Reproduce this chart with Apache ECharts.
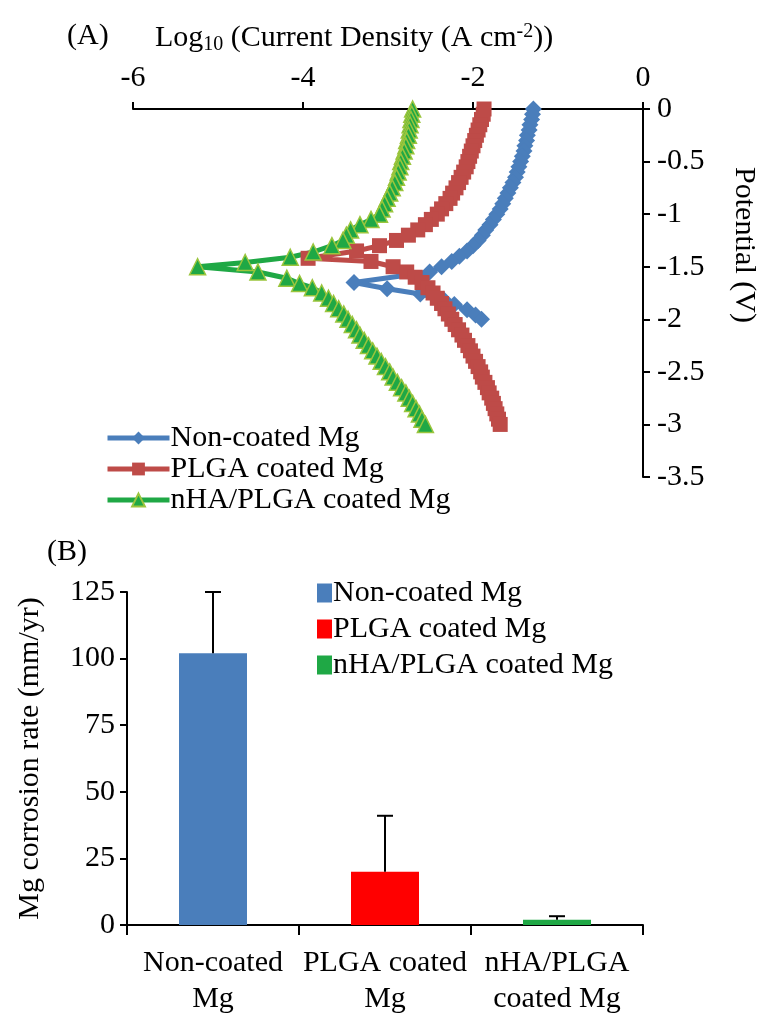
<!DOCTYPE html>
<html>
<head>
<meta charset="utf-8">
<script src="https://cdn.jsdelivr.net/npm/echarts@6/dist/echarts.min.js"></script>
<style>
  html, body { margin: 0; padding: 0; background: #fff; }
  #main { width: 762px; height: 1017px; }
</style>
</head>
<body>
<div id="main"></div>
<script>
// polarisation curves: [log10 current density, potential (V)]
var nonCoatedCurve = [
  [-1.29, 0], [-1.30, -0.05], [-1.31, -0.1], [-1.33, -0.15], [-1.34, -0.2], [-1.36, -0.25],
  [-1.37, -0.3], [-1.39, -0.35], [-1.40, -0.4], [-1.42, -0.45], [-1.44, -0.5], [-1.46, -0.55],
  [-1.48, -0.6], [-1.50, -0.65], [-1.53, -0.7], [-1.56, -0.75], [-1.59, -0.8], [-1.62, -0.85],
  [-1.65, -0.9], [-1.68, -0.95], [-1.72, -1.0], [-1.76, -1.05], [-1.80, -1.1], [-1.85, -1.15],
  [-1.89, -1.2], [-1.94, -1.25], [-2.00, -1.3], [-2.07, -1.35], [-2.16, -1.4], [-2.25, -1.45],
  [-2.37, -1.5], [-2.51, -1.55],
  [-3.40, -1.65], [-3.01, -1.71], [-2.62, -1.76], [-2.35, -1.81], [-2.22, -1.86],
  [-2.07, -1.91], [-1.97, -1.96], [-1.90, -2.0]
];
var plgaCurve = [
  [-1.87, 0], [-1.88, -0.05], [-1.90, -0.1], [-1.92, -0.15], [-1.94, -0.2], [-1.96, -0.25],
  [-1.98, -0.3], [-2.00, -0.35], [-2.02, -0.4], [-2.04, -0.45], [-2.06, -0.5], [-2.08, -0.55],
  [-2.11, -0.6], [-2.14, -0.65], [-2.17, -0.7], [-2.20, -0.75], [-2.24, -0.8], [-2.27, -0.85],
  [-2.32, -0.9], [-2.37, -0.95], [-2.42, -1.0], [-2.49, -1.05], [-2.56, -1.1], [-2.65, -1.15],
  [-2.76, -1.2], [-2.90, -1.25], [-3.10, -1.3], [-3.37, -1.35], [-3.94, -1.42],
  [-3.20, -1.45], [-2.94, -1.5], [-2.78, -1.55], [-2.68, -1.6], [-2.60, -1.65], [-2.53, -1.7],
  [-2.47, -1.75], [-2.42, -1.8], [-2.37, -1.85], [-2.33, -1.9], [-2.29, -1.95], [-2.25, -2.0],
  [-2.21, -2.05], [-2.17, -2.1], [-2.13, -2.15], [-2.10, -2.2], [-2.06, -2.25], [-2.03, -2.3],
  [-2.00, -2.35], [-1.97, -2.4], [-1.94, -2.45], [-1.91, -2.5], [-1.89, -2.55], [-1.86, -2.6],
  [-1.83, -2.65], [-1.81, -2.7], [-1.78, -2.75], [-1.76, -2.8], [-1.74, -2.85], [-1.72, -2.9],
  [-1.70, -2.95], [-1.68, -3.0]
];
var nhaPlgaCurve = [
  [-2.71, 0], [-2.72, -0.05], [-2.73, -0.1], [-2.74, -0.15], [-2.75, -0.2], [-2.76, -0.25],
  [-2.78, -0.3], [-2.79, -0.35], [-2.81, -0.4], [-2.83, -0.45], [-2.85, -0.5], [-2.86, -0.55],
  [-2.88, -0.6], [-2.90, -0.65], [-2.92, -0.7], [-2.95, -0.75], [-2.98, -0.8], [-3.01, -0.85],
  [-3.04, -0.9], [-3.07, -0.95], [-3.10, -1.0], [-3.20, -1.05], [-3.33, -1.1], [-3.44, -1.15],
  [-3.49, -1.2], [-3.53, -1.25], [-3.66, -1.3], [-3.88, -1.36], [-4.15, -1.41], [-4.68, -1.46],
  [-5.24, -1.5],
  [-4.53, -1.55], [-4.19, -1.61], [-4.04, -1.66], [-3.89, -1.7], [-3.78, -1.75], [-3.70, -1.8],
  [-3.64, -1.85], [-3.58, -1.9], [-3.52, -1.95], [-3.47, -2.0], [-3.42, -2.05], [-3.37, -2.1],
  [-3.33, -2.15], [-3.28, -2.2], [-3.23, -2.25], [-3.18, -2.3], [-3.13, -2.35], [-3.08, -2.4],
  [-3.03, -2.45], [-2.98, -2.5], [-2.94, -2.55], [-2.89, -2.6], [-2.84, -2.65], [-2.79, -2.7],
  [-2.75, -2.75], [-2.71, -2.8], [-2.67, -2.85], [-2.63, -2.9], [-2.60, -2.95], [-2.56, -3.0]
];

// corrosion rate bars
var barCategories = ['Non-coated\nMg', 'PLGA coated\nMg', 'nHA/PLGA\ncoated Mg'];
var seriesNames = ['Non-coated Mg', 'PLGA coated Mg', 'nHA/PLGA coated Mg'];
var corrosionRate = [102, 20, 2];
var corrosionUpper = [125, 41, 3.3];

var font = 'Liberation Serif';
var black = '#000';
var fs = 30;

function oneBar(i) {
  return barCategories.map(function (c, j) { return j === i ? corrosionRate[i] : '-'; });
}

var errData = corrosionRate.map(function (v, i) { return [i, v, corrosionUpper[i]]; });

var chart = echarts.init(document.getElementById('main'));
chart.setOption({
  animation: false,
  backgroundColor: '#fff',
  textStyle: { fontFamily: font, color: black },
  title: [
    { text: '(A)', left: 62, top: 16, textStyle: { fontFamily: font, fontWeight: 'normal', fontSize: fs, color: black } },
    {
      text: '{a|Log}{s|10}{a| (Current Density (A cm}{p|-2}{a|))}',
      left: 150, top: 16,
      textStyle: {
        fontWeight: 'normal',
        rich: {
          a: { fontFamily: font, fontSize: fs, fontWeight: 'normal', color: black },
          s: { fontFamily: font, fontSize: 20, fontWeight: 'normal', color: black, padding: [14, 0, 0, 0] },
          p: { fontFamily: font, fontSize: 20, fontWeight: 'normal', color: black, padding: [0, 0, 12, 0] }
        }
      }
    },
    { text: '(B)', left: 42, top: 532, textStyle: { fontFamily: font, fontWeight: 'normal', fontSize: fs, color: black } }
  ],
  graphic: [
    {
      type: 'text', x: 744, y: 245, rotation: -Math.PI / 2,
      style: { text: 'Potential (V)', font: fs + 'px "' + font + '"', fill: black, align: 'center', verticalAlign: 'middle' }
    }
  ],
  legend: [
    {
      data: seriesNames,
      orient: 'vertical',
      left: 100, top: 418,
      itemWidth: 62, itemHeight: 16, itemGap: 1,
      lineStyle: { width: 5 },
      textStyle: { fontFamily: font, fontSize: fs, color: black, padding: [0, 0, 0, -4] }
    },
    {
      data: seriesNames.map(function (n) { return n + ' '; }),
      orient: 'vertical',
      left: 312, top: 573,
      itemWidth: 15, itemHeight: 19, itemGap: 6,
      icon: 'rect',
      textStyle: { fontFamily: font, fontSize: fs, color: black, padding: [0, 0, 0, -4] }
    }
  ],
  grid: [
    { left: 133, right: 119, top: 109, height: 368 },
    { left: 127, right: 119, top: 592, height: 336 }
  ],
  xAxis: [
    {
      gridIndex: 0, type: 'value', position: 'top', min: -6, max: 0, interval: 2,
      axisLine: { lineStyle: { color: black, width: 2 } },
      axisTick: { show: true, length: 7, lineStyle: { color: black, width: 2 } },
      axisLabel: { fontFamily: font, fontSize: fs, color: black, margin: 16 },
      splitLine: { show: false }
    },
    {
      gridIndex: 1, type: 'category', data: barCategories,
      axisLine: { lineStyle: { color: black, width: 2 } },
      axisTick: { show: true, interval: 0, length: 10, lineStyle: { color: black, width: 2 } },
      axisLabel: { interval: 0, fontFamily: font, fontSize: fs, color: black, margin: 20, lineHeight: 36 }
    }
  ],
  yAxis: [
    {
      gridIndex: 0, type: 'value', position: 'right', min: -3.5, max: 0, interval: 0.5,
      axisLine: { show: true, lineStyle: { color: black, width: 2 } },
      axisTick: { show: true, length: 7, lineStyle: { color: black, width: 2 } },
      axisLabel: { fontFamily: font, fontSize: fs, color: black, margin: 14 },
      splitLine: { show: false }
    },
    {
      gridIndex: 1, type: 'value', min: 0, max: 125, interval: 25,
      axisLine: { show: true, lineStyle: { color: black, width: 2 } },
      axisTick: { show: true, length: 7, lineStyle: { color: black, width: 2 } },
      axisLabel: { fontFamily: font, fontSize: fs, color: black, margin: 12 },
      splitLine: { show: false },
      name: 'Mg corrosion rate (mm/yr)', nameLocation: 'middle', nameGap: 82,
      nameTextStyle: { fontFamily: font, fontSize: fs, color: black }
    }
  ],
  series: [
    {
      name: seriesNames[0], type: 'line', xAxisIndex: 0, yAxisIndex: 0, data: nonCoatedCurve,
      symbol: 'diamond', symbolSize: 17, color: '#4a7ebb',
      lineStyle: { width: 5 }, itemStyle: { color: '#4a7ebb' }
    },
    {
      name: seriesNames[1], type: 'line', xAxisIndex: 0, yAxisIndex: 0, data: plgaCurve,
      symbol: 'rect', symbolSize: 15, color: '#be4b48',
      lineStyle: { width: 5 }, itemStyle: { color: '#be4b48' }
    },
    {
      name: seriesNames[2], type: 'line', xAxisIndex: 0, yAxisIndex: 0, data: nhaPlgaCurve,
      symbol: 'triangle', symbolSize: 16, color: '#1fa845',
      lineStyle: { width: 5, color: '#1fa845' },
      itemStyle: { color: '#1fa845', borderColor: '#9bc53d', borderWidth: 1.5 }
    },
    {
      name: seriesNames[0] + ' ', type: 'bar', xAxisIndex: 1, yAxisIndex: 1, data: oneBar(0),
      barWidth: 68, barGap: '-100%', itemStyle: { color: '#4a7ebb' }
    },
    {
      name: seriesNames[1] + ' ', type: 'bar', xAxisIndex: 1, yAxisIndex: 1, data: oneBar(1),
      barWidth: 68, barGap: '-100%', itemStyle: { color: '#ff0000' }
    },
    {
      name: seriesNames[2] + ' ', type: 'bar', xAxisIndex: 1, yAxisIndex: 1, data: oneBar(2),
      barWidth: 68, barGap: '-100%', itemStyle: { color: '#1fa845' }
    },
    {
      type: 'custom', xAxisIndex: 1, yAxisIndex: 1, data: errData, z: 5,
      renderItem: function (params, api) {
        var base = api.coord([api.value(0), api.value(1)]);
        var top = api.coord([api.value(0), api.value(2)]);
        var half = 8;
        return {
          type: 'group',
          children: [
            { type: 'line', shape: { x1: base[0], y1: base[1], x2: top[0], y2: top[1] }, style: { stroke: black, lineWidth: 2 } },
            { type: 'line', shape: { x1: top[0] - half, y1: top[1], x2: top[0] + half, y2: top[1] }, style: { stroke: black, lineWidth: 2 } }
          ]
        };
      }
    }
  ]
});
</script>
</body>
</html>
